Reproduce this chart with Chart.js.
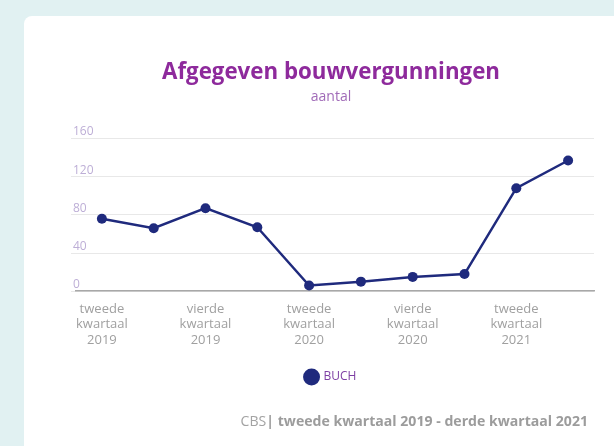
<!DOCTYPE html>
<html>
<head>
<meta charset="utf-8">
<script src="https://cdn.jsdelivr.net/npm/chart.js@4.4.1/dist/chart.umd.min.js"></script>
<style>
  body { margin: 0; background: #e1f1f2; width: 614px; height: 446px; overflow: hidden; position: relative; font-family: "Open Sans", sans-serif; }
  .card { position: absolute; left: 24px; top: 16px; width: 620px; height: 460px; background: #fff; border-radius: 8px; }
  .chartbox { position: absolute; left: 24px; top: 16px; width: 590px; height: 430px; }
  .footer { position: absolute; right: 26px; top: 411px; font-size: 14.1px; color: #a3a3a3; white-space: nowrap; }
  .footer b { font-weight: 700; color: #9c9c9c; }
</style>
</head>
<body>
<div class="card"></div>
<div class="chartbox"><canvas id="chart"></canvas></div>
<div class="footer">CBS<b>| tweede kwartaal 2019 - derde kwartaal 2021</b></div>
<script>
var categories = [
  "tweede kwartaal 2019", "derde kwartaal 2019", "vierde kwartaal 2019",
  "eerste kwartaal 2020", "tweede kwartaal 2020", "derde kwartaal 2020",
  "vierde kwartaal 2020", "eerste kwartaal 2021", "tweede kwartaal 2021",
  "derde kwartaal 2021"
];
var buchValues = [76, 66, 87, 67, 6, 10, 15, 18, 108, 137];
var yTicks = [0, 40, 80, 120, 160];

var ctx = document.getElementById("chart").getContext("2d");

new Chart(ctx, {
  type: "line",
  data: {
    labels: categories,
    datasets: [{
      label: "BUCH",
      data: buchValues,
      borderColor: "#1f2a7d",
      backgroundColor: "#1f2a7d",
      borderWidth: 2.5,
      pointRadius: 5,
      pointHoverRadius: 5,
      pointBackgroundColor: "#1f2a7d",
      pointBorderWidth: 0,
      tension: 0
    }]
  },
  options: {
    responsive: true,
    maintainAspectRatio: false,
    animation: false,
    layout: {
      padding: { left: 44, right: 20, top: 0, bottom: 53 }
    },
    plugins: {
      title: {
        display: true,
        text: "Afgegeven bouwvergunningen",
        color: "#8e2a9c",
        font: { family: "Open Sans", size: 22.3, weight: "bold" },
        padding: { top: 43, bottom: 3 }
      },
      subtitle: {
        display: true,
        text: "aantal",
        color: "#a16bb8",
        font: { family: "Open Sans", size: 14 },
        padding: { top: 0, bottom: 33 }
      },
      legend: {
        position: "bottom",
        labels: {
          usePointStyle: true,
          pointStyle: "circle",
          boxWidth: 13,
          boxHeight: 13,
          padding: 13,
          color: "#7d3fa3",
          font: { family: "Open Sans", size: 12 }
        }
      },
      tooltip: { enabled: false }
    },
    scales: {
      x: {
        offset: true,
        grid: { display: false, drawTicks: false },
        border: { display: true, color: "#a8a8a8", width: 1.5 },
        ticks: {
          autoSkip: false,
          maxRotation: 0,
          padding: 10,
          color: "#a0a0a0",
          font: { family: "Open Sans", size: 13, lineHeight: 1.2 },
          callback: function(value, index) {
            return index % 2 === 0 ? categories[index].split(" ") : "";
          }
        }
      },
      y: {
        min: 0,
        max: 160,
        afterBuildTicks: function(axis) {
          axis.ticks = yTicks.map(function(v) { return { value: v }; });
        },
        afterFit: function(axis) {
          axis.width = 8;
        },
        grid: { color: "#e8e8e8", lineWidth: 1, tickLength: 5, tickColor: "#e8e8e8" },
        border: { display: false },
        ticks: {
          mirror: true,
          padding: -3,
          labelOffset: -6.5,
          color: "#bdaed6",
          font: { family: "Open Sans", size: 12 }
        }
      }
    }
  }
});
</script>
</body>
</html>
